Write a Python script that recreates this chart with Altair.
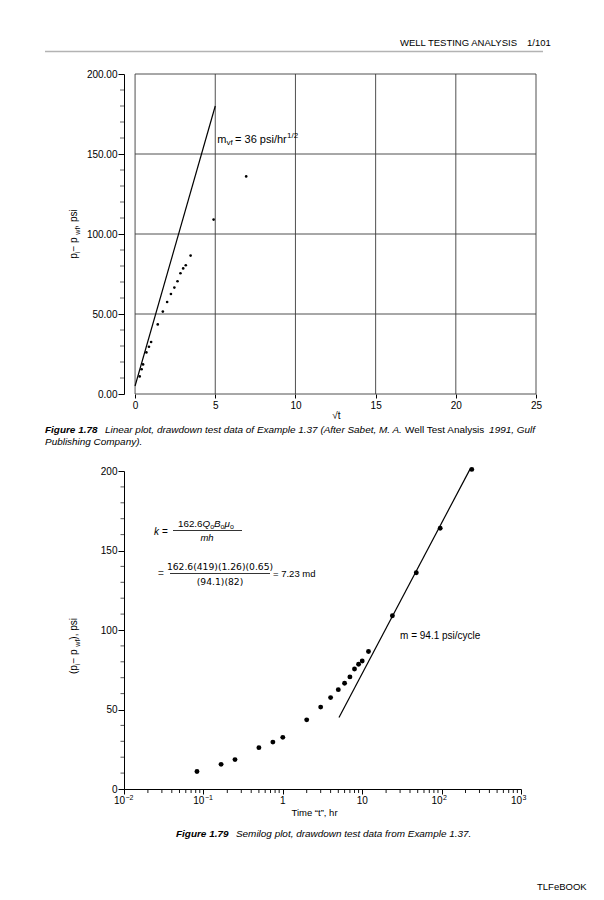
import altair as alt
import pandas as pd

# ------------------------------------------------------------------ data
time_hr = [0.083, 0.167, 0.25, 0.5, 0.75, 1, 2, 3, 4, 5, 6, 7, 8, 9, 10, 12, 24, 48, 96, 240]
drawdown_psi = [11, 15.5, 18.5, 26, 29.5, 32.5, 43.5, 51.5, 57.5, 62.5, 66.5, 70.5,
                75.5, 78.5, 80.5, 86.5, 109, 136, 164, 201]
linear_plot_max_t = 48          # last time shown on Figure 1.78

linear_fit_sqrt_t = [0, 5]
linear_fit_dp = [5, 180]
semilog_fit_t = [5.1, 230]
semilog_fit_dp = [45, 201.5]

lin_x_ticks = [0, 5, 10, 15, 20, 25]
lin_y_ticks = [0, 50, 100, 150, 200]
lin_y_minor = [v for v in range(10, 200, 10) if v % 50]
log_x_ticks = [0.01, 0.1, 1, 10, 100, 1000]
log_x_base = ["10", "10", "1", "10", "10", "10"]
log_x_exp = ["−2", "−1", "", "", "2", "3"]
log_x_minor = [m * d for d in [0.01, 0.1, 1, 10, 100] for m in range(2, 10)]
semi_y_ticks = [0, 50, 100, 150, 200]
semi_y_minor = [v for v in range(10, 200, 10) if v % 50]

mvf_anchor = {"x": [5], "y": [157]}
mcycle_anchor = {"x": [30], "y": [96]}

# ------------------------------------------------------------------ helpers
FONT = "Liberation Sans"
ONE = pd.DataFrame({"k": [0]})

AW = {' ': 278, '!': 278, '"': 355, '(': 333, ')': 333, ',': 278, '-': 333, '.': 278, '/': 278,
      ':': 278, '=': 584, '−': 584, '“': 333, '”': 333, 'μ': 576}
for c in '0123456789':
    AW[c] = 556
AW.update(dict(zip('ABCDEFGHIJKLMNOPQRSTUVWXYZ',
                   [667, 667, 722, 722, 667, 611, 778, 722, 278, 500, 667, 556, 833, 722, 778,
                    667, 778, 722, 667, 611, 722, 667, 944, 667, 667, 611])))
AW.update(dict(zip('abcdefghijklmnopqrstuvwxyz',
                   [556, 556, 500, 556, 556, 278, 556, 556, 222, 222, 500, 222, 833, 556, 556,
                    556, 556, 333, 500, 278, 556, 500, 722, 500, 500, 500])))
BW = dict(AW)
BW.update({'F': 611, 'i': 278, 'g': 611, 'u': 611, 'r': 389, 'e': 556})


def tw(s, size, bold=False):
    tab = BW if bold else AW
    return sum(tab.get(c, 556) for c in s) / 1000.0 * size


def txt(text, x, y, size=10, align="left", style="normal", weight="normal",
        angle=0, dx=0, dy=0, font=FONT, color="black"):
    kw = dict(text=text, align=align, baseline="alphabetic", font=font, fontSize=size,
              fontStyle=style, fontWeight=weight, color=color)
    if angle:
        kw["angle"] = angle
    if dx:
        kw["dx"] = dx
    if dy:
        kw["dy"] = dy
    return alt.Chart(ONE).mark_text(**kw).encode(x=alt.value(x), y=alt.value(y))


def hrule(x1, x2, y, color="black", width=1.0):
    return alt.Chart(ONE).mark_rule(color=color, strokeWidth=width).encode(
        x=alt.value(x1), x2=alt.value(x2), y=alt.value(y))


def rotated_title(parts, x, yc, big, small):
    widths = [tw(t, big if k == "m" else small) for t, k in parts]
    off = -sum(widths) / 2.0
    out = []
    for (t, k), w in zip(parts, widths):
        out.append(txt(t, x, yc, size=big if k == "m" else small, angle=270,
                       dx=off if off else 0.01, dy=2.5 if k == "s" else 0))
        off += w
    return out


def inline(parts, x, y, big, small, color="black"):
    """parts: (text, kind) with kind m=main upright, i=main italic, s=subscript"""
    out = []
    for t, k in parts:
        size = small if k == "s" else big
        out.append(txt(t, x, y, size=size, style="italic" if k == "i" else "normal",
                       dy=2.5 if k == "s" else 0, color=color))
        x += tw(t, size)
    return out


W_ALL = 412          # page x 124 .. 536
LEFT = -79           # page x 45 relative to plot origin x 124

# ------------------------------------------------------------------ header
p0 = alt.layer(
    txt("WELL TESTING ANALYSIS", 393, 37.5, size=9.5, align="right"),
    txt("1/101", 403, 37.5, size=9.5, align="left"),
    hrule(LEFT, 419, 43.5, color="#b3b3b3", width=1.6),
).properties(width=W_ALL, height=66)

# ------------------------------------------------------------------ figure 1.78
pts_df = pd.DataFrame({"t": time_hr, "dp": drawdown_psi})
xs1 = alt.Scale(domain=[-0.69, 25], nice=False, zero=False)
ys1 = alt.Scale(domain=[0, 200], nice=False, zero=False)

x_axis1 = alt.Axis(values=lin_x_ticks, domain=False, grid=False, tickSize=4, tickColor="black",
                   labelFont=FONT, labelFontSize=10, labelColor="black", labelPadding=2,
                   labelFlush=False, title="√t", titleFont=FONT, titleFontSize=10,
                   titleFontWeight="normal", titleColor="black", titleX=212, titleY=24,
                   titleBaseline="alphabetic", titleAlign="center")
y_axis1 = alt.Axis(values=lin_y_ticks, format=".2f", grid=False, domainColor="black",
                   tickSize=6, tickColor="black", labelFont=FONT, labelFontSize=10,
                   labelColor="black", labelPadding=1, title="")

pts1 = alt.Chart(pts_df).transform_filter(alt.datum.t <= linear_plot_max_t).transform_calculate(
    sqrt_t="sqrt(datum.t)").mark_circle(size=7, color="black", opacity=1).encode(
    x=alt.X("sqrt_t:Q", scale=xs1, axis=x_axis1), y=alt.Y("dp:Q", scale=ys1, axis=y_axis1))
grid_v = alt.Chart(pd.DataFrame({"g": lin_x_ticks, "lo": 0, "hi": 200})).mark_rule(
    color="#3c3c3c", strokeWidth=0.9).encode(
    x=alt.X("g:Q", scale=xs1), y=alt.Y("lo:Q", scale=ys1), y2="hi:Q")
grid_h = alt.Chart(pd.DataFrame({"g": lin_y_ticks, "lo": 0, "hi": 25})).mark_rule(
    color="#3c3c3c", strokeWidth=0.9).encode(
    y=alt.Y("g:Q", scale=ys1), x=alt.X("lo:Q", scale=xs1), x2="hi:Q")
minor1 = alt.Chart(pd.DataFrame({"v": lin_y_minor})).mark_rule(
    color="#555", strokeWidth=0.9).encode(
    y=alt.Y("v:Q", scale=ys1), x=alt.value(-4), x2=alt.value(0))
fit1 = alt.Chart(pd.DataFrame({"x": linear_fit_sqrt_t, "y": linear_fit_dp})).mark_line(
    color="black", strokeWidth=1.2).encode(
    x=alt.X("x:Q", scale=xs1), y=alt.Y("y:Q", scale=ys1))

ann_df = pd.DataFrame(mvf_anchor)


def ann1(text, size, dx, dy=0):
    kw = dict(text=text, align="left", baseline="alphabetic", font=FONT, fontSize=size,
              color="black", dx=dx)
    if dy:
        kw["dy"] = dy
    return alt.Chart(ann_df).mark_text(**kw).encode(
        x=alt.X("x:Q", scale=xs1), y=alt.Y("y:Q", scale=ys1))


mvf = [ann1("m", 11, 2), ann1("vf", 8, 11.2, 2.5), ann1("= 36 psi/hr", 11, 19.8),
       ann1("1/2", 8, 71.8, -4.5)]

ytitle1 = rotated_title([("p", "m"), ("i", "s"), (" − p", "m"), ("wf", "s"), (", psi", "m")],
                        -47, 160, 10, 7)

c1 = alt.layer(pts1, grid_v, grid_h, minor1, fit1, *mvf, *ytitle1).properties(
    width=W_ALL, height=320)

# ------------------------------------------------------------------ caption 1.78
cap_parts1 = [("Linear plot, drawdown test data of Example 1.37 (After Sabet, M. A.", "italic"),
              ("Well Test Analysis", "normal"), ("1991, Gulf", "italic")]
fig_lbl1 = "Figure 1.78"
em_total = (tw(fig_lbl1, 1, True) + 0.75 + sum(tw(t, 1) for t, _ in cap_parts1)
            + tw(" ", 1) * 2)
CAP = 490.0 / em_total
cap_layers = [txt(fig_lbl1, LEFT, 39, size=CAP, style="italic", weight="bold")]
xpos = LEFT + tw(fig_lbl1, CAP, True) + 0.75 * CAP
for t, st in cap_parts1:
    cap_layers.append(txt(t, xpos, 39, size=CAP, style=st))
    xpos += tw(t, CAP) + tw(" ", CAP)
cap_layers.append(txt("Publishing Company).", LEFT, 51, size=CAP, style="italic"))
p2 = alt.layer(*cap_layers).properties(width=W_ALL, height=77)

# ------------------------------------------------------------------ figure 1.79
xs2 = alt.Scale(type="log", domain=[0.01, 1000], nice=False)
ys2 = alt.Scale(domain=[0, 200], nice=False, zero=False)
W2 = 397
H2 = 318

x_axis2 = alt.Axis(values=log_x_ticks, grid=False, domainColor="black", tickSize=5,
                   tickColor="black", labels=False,
                   title="Time “t”, hr", titleFont=FONT, titleFontSize=9.5,
                   titleFontWeight="normal", titleColor="black", titleX=190, titleY=26,
                   titleBaseline="alphabetic", titleAlign="center")
y_axis2 = alt.Axis(values=semi_y_ticks, format="d", grid=False, domainColor="black",
                   tickSize=6, tickColor="black", labelFont=FONT, labelFontSize=10,
                   labelColor="black", labelPadding=1, title="")

pts2 = alt.Chart(pts_df).mark_circle(size=24, color="black", opacity=1).encode(
    x=alt.X("t:Q", scale=xs2, axis=x_axis2), y=alt.Y("dp:Q", scale=ys2, axis=y_axis2))
minor2x = alt.Chart(pd.DataFrame({"v": log_x_minor})).mark_rule(
    color="black", strokeWidth=0.9).encode(
    x=alt.X("v:Q", scale=xs2), y=alt.value(H2), y2=alt.value(H2 + 4))
minor2y = alt.Chart(pd.DataFrame({"v": semi_y_minor})).mark_rule(
    color="#444", strokeWidth=0.9).encode(
    y=alt.Y("v:Q", scale=ys2), x=alt.value(-3.5), x2=alt.value(0))
fit2 = alt.Chart(pd.DataFrame({"t": semilog_fit_t, "dp": semilog_fit_dp})).mark_line(
    color="black", strokeWidth=1.2).encode(
    x=alt.X("t:Q", scale=xs2), y=alt.Y("dp:Q", scale=ys2))
mcyc = alt.Chart(pd.DataFrame(mcycle_anchor)).mark_text(
    text="m = 94.1 psi/cycle", align="left", baseline="middle", font=FONT, fontSize=10,
    color="black").encode(x=alt.X("x:Q", scale=xs2), y=alt.Y("y:Q", scale=ys2))

lbl_df = pd.DataFrame({"v": log_x_ticks, "base": log_x_base, "exp": log_x_exp})
lbl_plain = alt.Chart(lbl_df).transform_filter("datum.exp == ''").mark_text(
    align="center", baseline="alphabetic", font=FONT, fontSize=10, color="black").encode(
    x=alt.X("v:Q", scale=xs2), y=alt.value(H2 + 15), text="base:N")
lbl_base = alt.Chart(lbl_df).transform_filter("datum.exp != ''").mark_text(
    align="right", baseline="alphabetic", font=FONT, fontSize=10, color="black", dx=1).encode(
    x=alt.X("v:Q", scale=xs2), y=alt.value(H2 + 15), text="base:N")
lbl_exp = alt.Chart(lbl_df).transform_filter("datum.exp != ''").mark_text(
    align="left", baseline="alphabetic", font=FONT, fontSize=7, color="black", dx=1.5,
    dy=-4.5).encode(x=alt.X("v:Q", scale=xs2), y=alt.value(H2 + 15), text="exp:N")

MF = "DejaVu Sans"
numer1 = inline([("162.6", "m"), ("Q", "i"), ("o", "s"), ("B", "i"), ("o", "s"),
                 ("μ", "i"), ("o", "s")], 54, 55.5, 9.8, 7)
formula = [
    txt("k", 30, 64, size=10, style="italic"),
    txt("=", 38, 64, size=10),
    *numer1,
    hrule(49, 118, 59.5, width=0.8),
    txt("mh", 83, 69.5, size=9.5, align="center", style="italic"),
    txt("=", 34, 106, size=10, color="#555"),
    txt("162.6(419)(1.26)(0.65)", 96, 99, size=9.2, align="center", font=MF),
    hrule(46, 146, 102.5, width=0.8),
    txt("(94.1)(82)", 96, 113.5, size=9.2, align="center", font=MF),
    txt("= 7.23 md", 149, 106, size=9.5),
]

ytitle2 = rotated_title([("(p", "m"), ("i", "s"), (" − p", "m"), ("wf", "s"), ("), psi", "m")],
                        -47, 175, 10, 7)

c2 = alt.layer(pts2, minor2x, minor2y, fit2, mcyc, lbl_plain, lbl_base, lbl_exp,
               *formula, *ytitle2).properties(width=W2, height=H2)

# ------------------------------------------------------------------ caption 1.79 + footer
fig_lbl2 = "Figure 1.79"
cap2_start = 176 - 124
p4 = alt.layer(
    txt(fig_lbl2, cap2_start, 48, size=CAP, style="italic", weight="bold"),
    txt("Semilog plot, drawdown test data from Example 1.37.",
        cap2_start + tw(fig_lbl2, CAP, True) + 0.75 * CAP, 48, size=CAP, style="italic"),
    txt("TLFeBOOK", 413, 100.5, size=9.5),
).properties(width=W_ALL, height=103)

chart = alt.vconcat(p0, c1, p2, c2, p4, spacing=0, bounds="flush", center=False).properties(
    padding={"left": 36, "top": 0, "right": 0, "bottom": 0}
).configure_view(stroke="transparent", strokeWidth=0)

chart.save("out.html", embed_options={"renderer": "svg", "actions": False})
